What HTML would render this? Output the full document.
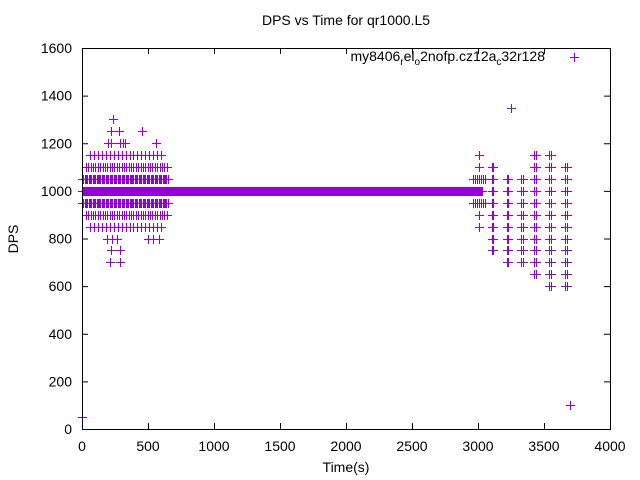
<!DOCTYPE html>
<html><head><meta charset="utf-8"><style>
body{margin:0;background:#fff}
svg{display:block;font-family:"Liberation Sans",sans-serif}
</style></head><body>
<svg id="chart" width="640" height="480">
<rect x="0" y="0" width="640" height="480" fill="#fff"/>
<text x="346" y="25" font-size="14" text-anchor="middle">DPS vs Time for qr1000.L5</text>
<text x="346" y="472" font-size="14" text-anchor="middle">Time(s)</text>
<text transform="translate(18,239) rotate(-90)" font-size="14" text-anchor="middle">DPS</text>
<g id="axes"></g>
<g id="marks" shape-rendering="crispEdges"></g>
<rect x="82.5" y="48.5" width="528" height="381" fill="none" stroke="#000"/>
<text x="545" y="61" font-size="14" text-anchor="end">my8406<tspan font-size="10" dy="4">r</tspan><tspan dy="-4">el</tspan><tspan font-size="10" dy="4">o</tspan><tspan dy="-4">2nofp.cz12a</tspan><tspan font-size="10" dy="4">c</tspan><tspan dy="-4">32r128</tspan></text>
<path d="M570 57.5h9M574.5 53v9" stroke="#9400d3" shape-rendering="crispEdges"/>
</svg>
<script>
const xTicks=[0,500,1000,1500,2000,2500,3000,3500,4000];
const yTicks=[0,200,400,600,800,1000,1200,1400,1600];
// dense runs: [startTime, endTime, value, sampleStep]
const runStart=[0,0,0,30,30,60,60,2960,2960];
const runEnd=[3030,650,650,650,650,600,600,3060,3060];
const runValue=[1000,1050,950,1100,900,1150,850,1050,950];
const runStep=[4,10,10,18,18,30,30,15,15];
// sparse left-cluster points
const leftTimes=[235,220,280,455,197,220,288,310,325,560,190,225,265,500,540,580,220,290,215,290];
const leftValues=[1300,1250,1250,1250,1200,1200,1200,1200,1200,1200,800,800,800,800,800,800,750,750,700,700];
// right-cluster columns
const colTimes=[3008,3106,3220,3326,3424,3538,3660];
const colTop=[1150,1100,1050,1050,1150,1150,1100];
const colBottom=[850,750,700,700,650,600,600];
const colSpread=[0,10,10,12,12,12,14];
// outliers
const outTimes=[3250,3700,0];
const outValues=[1350,100,50];
const blackTimes=[235,220,280,0];
const blackValues=[1300,1250,1250,50];

const X0=82,X1=610,Y0=429,Y1=48;
const xs=t=>X0+t/4000*(X1-X0);
const ys=v=>Y0-v/1600*(Y0-Y1);
const NS="http://www.w3.org/2000/svg";
const axes=document.getElementById('axes'),marks=document.getElementById('marks');
let ad="";
xTicks.forEach(t=>{const x=xs(t)+0.5;ad+=`M${x} 429v-6M${x} 48v6`;
 const tx=document.createElementNS(NS,'text');tx.setAttribute('x',xs(t));tx.setAttribute('y',451);tx.setAttribute('font-size',14);tx.setAttribute('text-anchor','middle');tx.textContent=t;
 
 
 axes.appendChild(tx);});
yTicks.forEach(v=>{const y=ys(v)+0.5;ad+=`M82 ${y}h6M610 ${y}h-6`;
 const tx=document.createElementNS(NS,'text');tx.setAttribute('x',72);tx.setAttribute('y',ys(v)+5);tx.setAttribute('font-size',14);tx.setAttribute('text-anchor','end');tx.textContent=v;
 
 
 axes.appendChild(tx);});
const tp=document.createElementNS(NS,'path');tp.setAttribute('d',ad);tp.setAttribute('stroke','#000');


axes.appendChild(tp);

let bd="",pd="";
const plus=(t,v)=>{const x=Math.round(xs(t))+0.5,y=Math.round(ys(v))+0.5;return `M${x-4.5} ${y}h9M${x} ${y-4.5}v9`;};
blackTimes.forEach((t,i)=>{bd+=plus(t,blackValues[i]);});
runStart.forEach((s,i)=>{for(let t=s;t<=runEnd[i];t+=runStep[i])pd+=plus(t,runValue[i]);});
leftTimes.forEach((t,i)=>{pd+=plus(t,leftValues[i]);});
colTimes.forEach((t,i)=>{for(let v=colBottom[i];v<=colTop[i];v+=50){pd+=plus(t,v);if(colSpread[i])pd+=plus(t+colSpread[i],v);}});
outTimes.forEach((t,i)=>{pd+=plus(t,outValues[i]);});
const bp=document.createElementNS(NS,'path');bp.setAttribute('d',bd);bp.setAttribute('stroke','#000');bp.setAttribute('fill','none');


marks.appendChild(bp);
const pp=document.createElementNS(NS,'path');pp.setAttribute('d',pd);pp.setAttribute('stroke','#9400d3');pp.setAttribute('fill','none');


marks.appendChild(pp);
</script>
</body></html>
